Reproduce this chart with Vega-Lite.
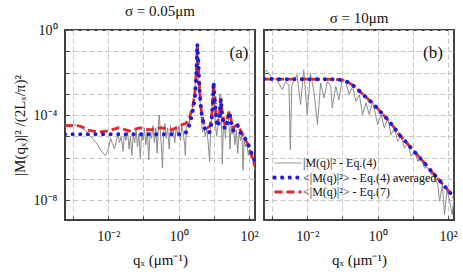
{
"$schema": "https://vega.github.io/schema/vega-lite/v6.json",
"padding": {"left": 11, "top": 3, "right": 0, "bottom": 0},
"spacing": 2,
"resolve": {"scale": {"color": "independent"}, "legend": {"color": "independent"}},
"config": {
  "font": "Liberation Serif",
  "view": {"stroke": "#404040", "strokeWidth": 2},
  "axis": {"labelFont": "Liberation Serif", "labelFontSize": 14, "labelColor": "#111", "titleFont": "Liberation Serif", "titleFontSize": 15, "titleFontWeight": "normal", "titleColor": "#111", "grid": true, "gridColor": "#c4c4c4", "gridDash": [5, 3], "gridWidth": 1, "domain": false, "ticks": true, "tickColor": "#404040", "tickSize": -4, "labelPadding": 12, "titlePadding": 6},
  "axisX": {"labelPadding": 13, "titlePadding": 9},
  "title": {"font": "Liberation Serif", "fontSize": 15, "fontWeight": "normal", "color": "#111", "offset": 0, "frame": "group"}
},
"datasets": {
  "a_raw": [{"q":5.9e-4,"m":3.55e-5},{"q":1e-3,"m":3.55e-5},{"q":1.41e-3,"m":3.16e-5},{"q":2.0e-3,"m":2.24e-5},{"q":3.16e-3,"m":1e-5},{"q":5.01e-3,"m":3.98e-6},{"q":7.08e-3,"m":1.58e-6},{"q":8.32e-3,"m":1.26e-6},{"q":0.01,"m":2.51e-6},{"q":0.0117,"m":7.94e-6},{"q":0.0132,"m":4.47e-6},{"q":0.0151,"m":2.51e-6},{"q":0.017,"m":6.31e-6},{"q":0.0191,"m":1.26e-5},{"q":0.0209,"m":5.01e-6},{"q":0.0234,"m":1e-5},{"q":0.0263,"m":2.0e-6},{"q":0.0288,"m":1.26e-5},{"q":0.0316,"m":6.31e-6},{"q":0.0355,"m":1.58e-5},{"q":0.0389,"m":2.51e-6},{"q":0.0427,"m":1e-5},{"q":0.0468,"m":1.26e-6},{"q":0.0513,"m":1.26e-5},{"q":0.0562,"m":5.01e-6},{"q":0.0617,"m":2.0e-5},{"q":0.0676,"m":3.16e-6},{"q":0.0741,"m":1.26e-5},{"q":0.0813,"m":1e-6},{"q":0.0891,"m":1.58e-5},{"q":0.0977,"m":6.31e-6},{"q":0.107,"m":2.51e-5},{"q":0.117,"m":3.98e-6},{"q":0.129,"m":2.0e-5},{"q":0.141,"m":7.94e-7},{"q":0.155,"m":1.58e-5},{"q":0.17,"m":7.94e-6},{"q":0.186,"m":3.16e-5},{"q":0.204,"m":5.01e-6},{"q":0.224,"m":2.51e-5},{"q":0.245,"m":1.58e-6},{"q":0.269,"m":5.01e-5},{"q":0.282,"m":1e-4},{"q":0.302,"m":1.58e-5},{"q":0.324,"m":3.16e-6},{"q":0.347,"m":3.16e-7},{"q":0.372,"m":1.26e-5},{"q":0.407,"m":3.98e-5},{"q":0.447,"m":7.94e-6},{"q":0.49,"m":2.51e-5},{"q":0.537,"m":2.51e-6},{"q":0.589,"m":3.16e-5},{"q":0.646,"m":1e-5},{"q":0.708,"m":2.0e-5},{"q":0.776,"m":5.01e-6},{"q":0.851,"m":2.51e-5},{"q":0.933,"m":1.26e-5},{"q":1.023,"m":3.16e-5},{"q":1.122,"m":6.31e-6},{"q":1.23,"m":3.16e-5},{"q":1.349,"m":1.58e-5},{"q":1.479,"m":3.98e-6},{"q":1.549,"m":1.26e-6},{"q":1.66,"m":2.51e-5},{"q":1.82,"m":5.01e-5},{"q":1.995,"m":3.16e-5},{"q":2.138,"m":1e-4},{"q":2.344,"m":1.26e-4},{"q":2.57,"m":3.98e-4},{"q":2.818,"m":1e-3},{"q":3.09,"m":6.31e-3},{"q":3.311,"m":0.126},{"q":3.467,"m":0.0631},{"q":3.715,"m":6.31e-3},{"q":3.981,"m":6.31e-4},{"q":4.365,"m":7.94e-5},{"q":4.786,"m":1.58e-5},{"q":5.248,"m":2.51e-5},{"q":5.754,"m":1e-5},{"q":6.31,"m":2.0e-5},{"q":6.918,"m":5.01e-6},{"q":7.586,"m":6.31e-7},{"q":8.128,"m":2.51e-5},{"q":8.913,"m":2.51e-4},{"q":9.772,"m":3.16e-3},{"q":10.47,"m":5.01e-4},{"q":11.22,"m":3.16e-5},{"q":12.02,"m":1e-5},{"q":12.88,"m":2.51e-5},{"q":13.8,"m":1.58e-4},{"q":14.79,"m":1e-3},{"q":15.85,"m":7.94e-4},{"q":16.6,"m":6.31e-5},{"q":17.38,"m":5.01e-7},{"q":18.62,"m":2.0e-5},{"q":19.95,"m":3.98e-5},{"q":21.38,"m":7.94e-6},{"q":22.91,"m":5.01e-5},{"q":25.12,"m":1.26e-4},{"q":26.92,"m":3.98e-5},{"q":28.84,"m":2.51e-6},{"q":30.9,"m":3.16e-5},{"q":33.11,"m":1.26e-5},{"q":36.31,"m":2.51e-5},{"q":39.81,"m":3.98e-6},{"q":43.65,"m":2.0e-5},{"q":47.86,"m":1.58e-6},{"q":52.48,"m":1.58e-5},{"q":57.54,"m":6.31e-6},{"q":63.1,"m":1.26e-5},{"q":67.61,"m":2.51e-7},{"q":72.44,"m":6.31e-6},{"q":79.43,"m":3.16e-6},{"q":87.1,"m":5.01e-6},{"q":95.5,"m":1.26e-6},{"q":104.7,"m":2.51e-6},{"q":114.8,"m":1e-6},{"q":125.9,"m":2.0e-6},{"q":138,"m":3.98e-7},{"q":147.9,"m":2.51e-7}],
  "a_avg": [{"q":5.9e-4,"m":1.26e-5},{"q":1.413,"m":1.26e-5},{"q":1.778,"m":1.78e-5},{"q":2.089,"m":3.98e-5},{"q":2.512,"m":1.58e-4},{"q":2.884,"m":6.31e-4},{"q":3.162,"m":5.01e-3},{"q":3.388,"m":0.219},{"q":3.631,"m":0.0316},{"q":3.89,"m":2.0e-3},{"q":4.365,"m":1.58e-4},{"q":5.248,"m":2.82e-5},{"q":6.607,"m":1.41e-5},{"q":7.586,"m":1.58e-5},{"q":8.511,"m":3.98e-5},{"q":9.333,"m":3.16e-4},{"q":9.886,"m":3.55e-3},{"q":10.47,"m":6.31e-4},{"q":11.48,"m":1e-4},{"q":12.59,"m":2.82e-5},{"q":14.45,"m":5.01e-5},{"q":15.85,"m":5.62e-4},{"q":17.38,"m":7.94e-5},{"q":20.42,"m":2.24e-5},{"q":23.99,"m":3.98e-5},{"q":27.54,"m":1.41e-4},{"q":31.62,"m":3.98e-5},{"q":36.31,"m":1.78e-5},{"q":41.69,"m":2.51e-5},{"q":47.86,"m":3.16e-5},{"q":56.23,"m":1.58e-5},{"q":70.79,"m":1e-5},{"q":91.2,"m":5.01e-6},{"q":117.5,"m":1.58e-6},{"q":147.9,"m":6.31e-7}],
  "a_eq7": [{"q":5.9e-4,"m":3.16e-5},{"q":1.26e-3,"m":3.16e-5},{"q":1.78e-3,"m":2.82e-5},{"q":2.51e-3,"m":2.0e-5},{"q":5.01e-3,"m":1.58e-5},{"q":0.01,"m":1.78e-5},{"q":0.02,"m":2.51e-5},{"q":0.0398,"m":1.78e-5},{"q":0.0794,"m":2.51e-5},{"q":0.158,"m":2.0e-5},{"q":0.316,"m":2.51e-5},{"q":0.631,"m":2.0e-5},{"q":1.0,"m":2.82e-5},{"q":1.259,"m":3.55e-5},{"q":1.585,"m":3.98e-5},{"q":1.995,"m":6.31e-5},{"q":2.512,"m":2.51e-4},{"q":2.884,"m":1e-3},{"q":3.162,"m":0.01},{"q":3.388,"m":0.178},{"q":3.631,"m":0.0251},{"q":3.981,"m":1.26e-3},{"q":4.467,"m":1.26e-4},{"q":5.248,"m":3.98e-5},{"q":6.607,"m":2.51e-5},{"q":7.943,"m":3.16e-5},{"q":8.913,"m":1.58e-4},{"q":9.772,"m":3.16e-3},{"q":10.47,"m":1e-3},{"q":11.48,"m":1.26e-4},{"q":12.59,"m":3.98e-5},{"q":14.45,"m":1e-4},{"q":15.85,"m":6.31e-4},{"q":17.38,"m":1.26e-4},{"q":20.42,"m":3.98e-5},{"q":23.99,"m":6.31e-5},{"q":27.54,"m":1.58e-4},{"q":31.62,"m":5.01e-5},{"q":36.31,"m":2.51e-5},{"q":41.69,"m":3.16e-5},{"q":47.86,"m":3.55e-5},{"q":56.23,"m":2.0e-5},{"q":70.79,"m":1e-5},{"q":91.2,"m":4.47e-6},{"q":117.5,"m":1.26e-6},{"q":147.9,"m":3.98e-7}],
  "b_raw": [{"q":5.9e-4,"m":1.41e-2},{"q":7.24e-4,"m":1.15e-2},{"q":1e-3,"m":5.5e-3},{"q":1.38e-3,"m":4.57e-3},{"q":1.95e-3,"m":1.55e-3},{"q":2.4e-3,"m":3.8e-3},{"q":3.02e-3,"m":2.51e-3},{"q":3.31e-3,"m":2.34e-6},{"q":3.63e-3,"m":2.51e-3},{"q":4.17e-3,"m":3.8e-3},{"q":5.13e-3,"m":7.94e-3},{"q":6.46e-3,"m":3.09e-4},{"q":7.94e-3,"m":1.35e-2},{"q":0.01,"m":1.05e-4},{"q":0.0123,"m":9.55e-3},{"q":0.0155,"m":1.29e-3},{"q":0.0195,"m":3.55e-5},{"q":0.024,"m":3.24e-3},{"q":0.0302,"m":6.31e-4},{"q":0.0372,"m":3.8e-3},{"q":0.0468,"m":2.24e-3},{"q":0.0513,"m":2.14e-4},{"q":0.0646,"m":2.24e-3},{"q":0.0794,"m":5.25e-4},{"q":0.1,"m":5.5e-3},{"q":0.123,"m":3.8e-3},{"q":0.155,"m":9.12e-4},{"q":0.195,"m":2.24e-3},{"q":0.24,"m":4.37e-4},{"q":0.302,"m":9.12e-4},{"q":0.372,"m":1.05e-4},{"q":0.468,"m":3.72e-4},{"q":0.575,"m":1.05e-4},{"q":0.724,"m":4.37e-4},{"q":1.0,"m":3.55e-5},{"q":1.259,"m":1.05e-4},{"q":1.549,"m":2.51e-5},{"q":1.95,"m":7.24e-5},{"q":2.399,"m":1.17e-5},{"q":3.02,"m":2.5e-5},{"q":3.715,"m":5.75e-6},{"q":4.677,"m":1.0e-5},{"q":5.754,"m":2.82e-6},{"q":7.244,"m":5.0e-6},{"q":8.913,"m":1.15e-6},{"q":11.22,"m":2.2e-6},{"q":13.8,"m":6.61e-7},{"q":17.38,"m":9.0e-7},{"q":21.38,"m":3.24e-7},{"q":26.92,"m":3.3e-7},{"q":33.11,"m":1.55e-7},{"q":41.69,"m":1.5e-7},{"q":51.29,"m":5.25e-8},{"q":57.54,"m":8.71e-9},{"q":69.18,"m":5.5e-8},{"q":79.43,"m":2.04e-9},{"q":93.33,"m":3.0e-8},{"q":112.2,"m":8.71e-9},{"q":131.8,"m":2.04e-9},{"q":147.9,"m":1.26e-8}],
  "b_avg": [{"q":5.9e-4,"m":4.9e-3},{"q":0.0631,"m":4.79e-3},{"q":0.1,"m":4.37e-3},{"q":0.141,"m":3.55e-3},{"q":0.191,"m":2.63e-3},{"q":0.251,"m":1.82e-3},{"q":0.355,"m":1.05e-3},{"q":0.603,"m":4.68e-4},{"q":1.0,"m":2.0e-4},{"q":1.82,"m":6.76e-5},{"q":2.818,"m":2.82e-5},{"q":4.169,"m":1.17e-5},{"q":6.607,"m":5.01e-6},{"q":10.47,"m":2.09e-6},{"q":19.95,"m":6.31e-7},{"q":37.15,"m":1.86e-7},{"q":70.79,"m":5.62e-8},{"q":147.9,"m":1.35e-8}],
  "b_eq7": [{"q":5.9e-4,"m":4.9e-3},{"q":0.0631,"m":4.79e-3},{"q":0.1,"m":4.37e-3},{"q":0.141,"m":3.55e-3},{"q":0.191,"m":2.63e-3},{"q":0.251,"m":1.82e-3},{"q":0.355,"m":1.05e-3},{"q":0.603,"m":4.68e-4},{"q":1.0,"m":2.0e-4},{"q":1.82,"m":6.76e-5},{"q":2.818,"m":2.82e-5},{"q":4.169,"m":1.17e-5},{"q":6.607,"m":5.01e-6},{"q":10.47,"m":2.09e-6},{"q":19.95,"m":6.31e-7},{"q":37.15,"m":1.86e-7},{"q":70.79,"m":5.62e-8},{"q":147.9,"m":1.35e-8}]
},
"hconcat": [
  {
    "width": 190, "height": 190,
    "title": {"text": "σ = 0.05μm"},
    "layer": [
      {"data": {"name": "a_raw"}, "mark": {"type": "line", "color": "#8c8c8c", "strokeWidth": 1, "clip": true},
       "encoding": {
         "x": {"field": "q", "type": "quantitative", "scale": {"type": "log", "domain": [5.9e-4, 148], "nice": false},
               "axis": {"values": [0.001, 0.01, 0.1, 1, 10, 100], "labelExpr": "['', '10⁻²', '', '10⁰', '', '10²'][round(log(datum.value)/LN10)+3]", "title": "qₓ (μm⁻¹)"}},
         "y": {"field": "m", "type": "quantitative", "scale": {"type": "log", "domain": [1.15e-9, 1], "nice": false},
               "axis": {"values": [1e-9, 1e-8, 1e-7, 1e-6, 1e-5, 1e-4, 1e-3, 1e-2, 1e-1, 1], "labelExpr": "round(log(datum.value)/LN10) == 0 ? '10⁰' : round(log(datum.value)/LN10) == -4 ? '10⁻⁴' : round(log(datum.value)/LN10) == -8 ? '10⁻⁸' : ''", "title": "|M(qₓ)|² /(2Lₓ/π)²"}}
       }},
      {"data": {"name": "a_eq7"}, "mark": {"type": "line", "color": "#e8262b", "strokeWidth": 2.8, "strokeDash": [8, 4], "clip": true},
       "encoding": {"x": {"field": "q", "type": "quantitative"}, "y": {"field": "m", "type": "quantitative"}}},
      {"data": {"name": "a_avg"}, "mark": {"type": "line", "color": "#1c1cd8", "strokeWidth": 4, "strokeDash": [0.1, 7.5], "strokeCap": "round", "clip": true},
       "encoding": {"x": {"field": "q", "type": "quantitative"}, "y": {"field": "m", "type": "quantitative"}}},
      {"data": {"values": [{}]}, "mark": {"type": "text", "text": "(a)", "fontSize": 17, "font": "Liberation Serif", "baseline": "middle", "color": "#111"},
       "encoding": {"x": {"datum": 52, "type": "quantitative"}, "y": {"datum": 0.083, "type": "quantitative"}}}
    ]
  },
  {
    "width": 190, "height": 190,
    "title": {"text": "σ = 10μm"},
    "layer": [
      {"data": {"name": "b_raw"}, "mark": {"type": "line", "strokeWidth": 1, "clip": true},
       "encoding": {
         "x": {"field": "q", "type": "quantitative", "scale": {"type": "log", "domain": [5.9e-4, 148], "nice": false},
               "axis": {"values": [0.001, 0.01, 0.1, 1, 10, 100], "labelExpr": "['', '10⁻²', '', '10⁰', '', '10²'][round(log(datum.value)/LN10)+3]", "title": "qₓ (μm⁻¹)"}},
         "y": {"field": "m", "type": "quantitative", "scale": {"type": "log", "domain": [1.15e-9, 1], "nice": false},
               "axis": {"values": [1e-9, 1e-8, 1e-7, 1e-6, 1e-5, 1e-4, 1e-3, 1e-2, 1e-1, 1], "labels": false, "title": null, "minExtent": 0, "maxExtent": 0}},
         "color": {"datum": "raw", "type": "nominal", "scale": {"domain": ["raw", "avg", "eq7"], "range": ["#8c8c8c", "#1c1cd8", "#e8262b"]},
                   "legend": {"orient": "none", "legendX": 18, "legendY": 127, "title": null, "symbolType": "M-1.5,0L1.5,0", "symbolSize": 324, "labelFont": "Liberation Serif", "labelFontSize": 12, "labelColor": "#111", "labelOffset": 9, "rowPadding": 0.5,
                              "labelExpr": "datum.value === 'raw' ? '|M(q)|² - Eq.(4)' : datum.value === 'avg' ? '<|M(q)|²> - Eq.(4) averaged' : '<|M(q)|²> - Eq.(7)'",
                              "encode": {"symbols": {"update": {"strokeWidth": {"signal": "datum.value === 'raw' ? 1 : datum.value === 'avg' ? 4 : 2.8"}, "strokeDash": {"signal": "datum.value === 'avg' ? [0.1, 7.5] : datum.value === 'eq7' ? [8, 4] : [1, 0]"}, "strokeCap": {"signal": "datum.value === 'avg' ? 'round' : 'butt'"}, "fill": {"value": "transparent"}}}}}}
       }},
      {"data": {"name": "b_eq7"}, "mark": {"type": "line", "strokeWidth": 2.8, "strokeDash": [8, 4], "clip": true},
       "encoding": {"x": {"field": "q", "type": "quantitative"}, "y": {"field": "m", "type": "quantitative"}, "color": {"datum": "eq7", "type": "nominal"}}},
      {"data": {"name": "b_avg"}, "mark": {"type": "line", "strokeWidth": 4, "strokeDash": [0.1, 7.5], "strokeCap": "round", "clip": true},
       "encoding": {"x": {"field": "q", "type": "quantitative"}, "y": {"field": "m", "type": "quantitative"}, "color": {"datum": "avg", "type": "nominal"}}},
      {"data": {"values": [{}]}, "mark": {"type": "text", "text": "(b)", "fontSize": 17, "font": "Liberation Serif", "baseline": "middle", "color": "#111"},
       "encoding": {"x": {"datum": 37.3, "type": "quantitative"}, "y": {"datum": 0.083, "type": "quantitative"}}}
    ]
  }
]
}
